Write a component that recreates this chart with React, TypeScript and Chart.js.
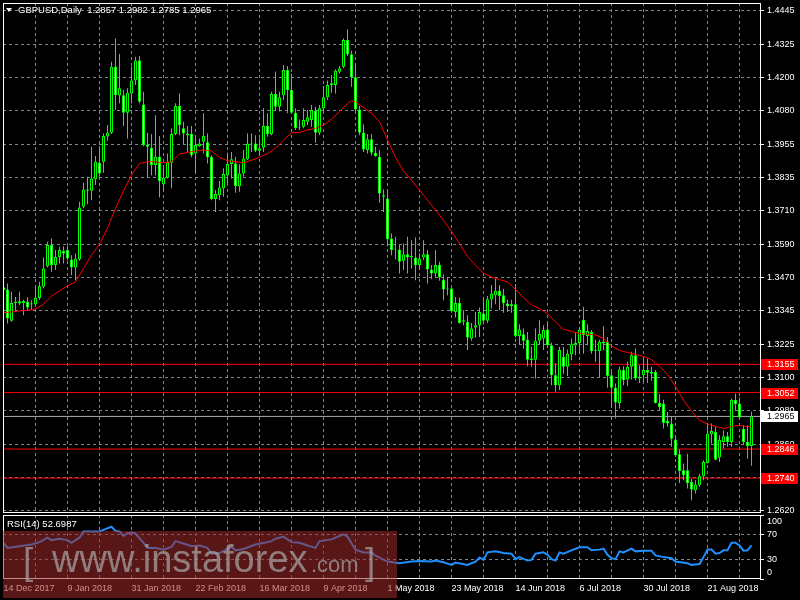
import React, { useEffect, useRef } from "react";
import { Chart, registerables } from "chart.js";
Chart.register(...registerables);

const symbol = "GBPUSD,Daily";

const opens = [
  1.3436, 1.3428, 1.3314, 1.3379, 1.3385, 1.3378, 1.3383, 1.3373, 1.3373, 1.3397,
  1.3438, 1.3513, 1.3590, 1.3517, 1.3547, 1.3568, 1.3572, 1.3537, 1.3508, 1.3537,
  1.3730, 1.3793, 1.3788, 1.3830, 1.3890, 1.3894, 1.3986, 1.4000, 1.4241, 1.4136,
  1.4137, 1.4073, 1.4143, 1.4190, 1.4263, 1.4103, 1.3957, 1.3945, 1.3882, 1.3912,
  1.3811, 1.3836, 1.3890, 1.3995, 1.4097, 1.4016, 1.3997, 1.3995, 1.3924, 1.3951,
  1.3967, 1.3965, 1.3912, 1.3758, 1.3772, 1.3797, 1.3845, 1.3886, 1.3888, 1.3805,
  1.3851, 1.3903, 1.3961, 1.3961, 1.3934, 1.3945, 1.4024, 1.3995, 1.4141, 1.4095,
  1.4137, 1.4229, 1.4156, 1.4073, 1.4019, 1.4022, 1.4040, 1.4046, 1.4080, 1.4000,
  1.4089, 1.4129, 1.4174, 1.4174, 1.4222, 1.4241, 1.4338, 1.4286, 1.4202, 1.4085,
  1.4000, 1.3937, 1.3976, 1.3927, 1.3912, 1.3766, 1.3760, 1.3614, 1.3572, 1.3574,
  1.3533, 1.3557, 1.3547, 1.3545, 1.3517, 1.3545, 1.3557, 1.3501, 1.3486, 1.3517,
  1.3464, 1.3428, 1.3432, 1.3346, 1.3379, 1.3310, 1.3310, 1.3249, 1.3289, 1.3298,
  1.3340, 1.3314, 1.3392, 1.3407, 1.3423, 1.3407, 1.3377, 1.3367, 1.3374, 1.3258,
  1.3265, 1.3245, 1.3170, 1.3172, 1.3241, 1.3249, 1.3282, 1.3225, 1.3115, 1.3079,
  1.3182, 1.3146, 1.3192, 1.3225, 1.3233, 1.3318, 1.3258, 1.3273, 1.3204, 1.3204,
  1.3237, 1.3237, 1.3115, 1.3070, 1.3014, 1.3134, 1.3100, 1.3146, 1.3188, 1.3103,
  1.3115, 1.3134, 1.3121, 1.3127, 1.3014, 1.3012, 1.2949, 1.2939, 1.2881, 1.2827,
  1.2769, 1.2769, 1.2726, 1.2696, 1.2714, 1.2747, 1.2795, 1.2900, 1.2908, 1.2815,
  1.2872, 1.2893, 1.2872, 1.3026, 1.3012, 1.2920, 1.2872, 1.2857,
];
const highs = [
  1.3465, 1.3450, 1.3420, 1.3401, 1.3420, 1.3391, 1.3399, 1.3389, 1.3434, 1.3456,
  1.3545, 1.3602, 1.3614, 1.3572, 1.3584, 1.3586, 1.3586, 1.3553, 1.3559, 1.3748,
  1.3817, 1.3839, 1.3949, 1.3915, 1.3951, 1.3997, 1.4028, 1.4259, 1.4344, 1.4287,
  1.4156, 1.4162, 1.4241, 1.4277, 1.4280, 1.4149, 1.4000, 1.3995, 1.4064, 1.3988,
  1.3876, 1.3924, 1.4016, 1.4107, 1.4143, 1.4040, 1.4024, 1.4024, 1.3991, 1.3979,
  1.4071, 1.3997, 1.3918, 1.3791, 1.3825, 1.3870, 1.3927, 1.3930, 1.3912, 1.3885,
  1.3937, 1.3997, 1.3997, 1.3991, 1.3979, 1.4089, 1.4071, 1.4149, 1.4223, 1.4149,
  1.4247, 1.4243, 1.4216, 1.4089, 1.4048, 1.4089, 1.4083, 1.4101, 1.4095, 1.4101,
  1.4170, 1.4190, 1.4210, 1.4231, 1.4243, 1.4344, 1.4377, 1.4299, 1.4247, 1.4097,
  1.4031, 1.3995, 1.3995, 1.3949, 1.3937, 1.3793, 1.3790, 1.3632, 1.3620, 1.3590,
  1.3596, 1.3620, 1.3608, 1.3618, 1.3559, 1.3608, 1.3572, 1.3517, 1.3572, 1.3529,
  1.3484, 1.3472, 1.3435, 1.3401, 1.3399, 1.3352, 1.3334, 1.3306, 1.3346, 1.3362,
  1.3401, 1.3404, 1.3444, 1.3468, 1.3444, 1.3431, 1.3391, 1.3391, 1.3448, 1.3301,
  1.3286, 1.3273, 1.3219, 1.3286, 1.3316, 1.3298, 1.3306, 1.3234, 1.3158, 1.3219,
  1.3219, 1.3209, 1.3249, 1.3270, 1.3289, 1.3365, 1.3301, 1.3280, 1.3245, 1.3245,
  1.3294, 1.3255, 1.3127, 1.3085, 1.3146, 1.3148, 1.3164, 1.3201, 1.3213, 1.3152,
  1.3172, 1.3176, 1.3146, 1.3134, 1.3046, 1.3026, 1.2981, 1.2963, 1.2896, 1.2844,
  1.2793, 1.2829, 1.2738, 1.2732, 1.2756, 1.2805, 1.2939, 1.2939, 1.2927, 1.2896,
  1.2914, 1.2908, 1.3030, 1.3048, 1.3034, 1.2933, 1.2933, 1.2982,
];
const lows = [
  1.3401, 1.3304, 1.3310, 1.3346, 1.3371, 1.3334, 1.3353, 1.3353, 1.3365, 1.3391,
  1.3432, 1.3508, 1.3493, 1.3499, 1.3523, 1.3523, 1.3535, 1.3480, 1.3462, 1.3533,
  1.3724, 1.3739, 1.3754, 1.3809, 1.3839, 1.3854, 1.3971, 1.3995, 1.4083, 1.4107,
  1.4024, 1.3979, 1.4107, 1.4174, 1.4107, 1.3951, 1.3837, 1.3845, 1.3845, 1.3764,
  1.3788, 1.3833, 1.3797, 1.3991, 1.3991, 1.3958, 1.3930, 1.3910, 1.3854, 1.3949,
  1.3924, 1.3888, 1.3754, 1.3711, 1.3754, 1.3766, 1.3809, 1.3833, 1.3781, 1.3785,
  1.3839, 1.3900, 1.3930, 1.3930, 1.3915, 1.3930, 1.3985, 1.3991, 1.4083, 1.4077,
  1.4119, 1.4071, 1.4071, 1.4010, 1.4010, 1.4016, 1.4028, 1.4022, 1.3963, 1.3991,
  1.4077, 1.4119, 1.4146, 1.4143, 1.4216, 1.4235, 1.4280, 1.4168, 1.4077, 1.3991,
  1.3930, 1.3924, 1.3918, 1.3912, 1.3744, 1.3711, 1.3585, 1.3553, 1.3537, 1.3486,
  1.3499, 1.3486, 1.3505, 1.3462, 1.3499, 1.3535, 1.3450, 1.3465, 1.3474, 1.3460,
  1.3389, 1.3407, 1.3343, 1.3326, 1.3304, 1.3298, 1.3207, 1.3241, 1.3253, 1.3255,
  1.3301, 1.3306, 1.3359, 1.3374, 1.3352, 1.3343, 1.3346, 1.3343, 1.3253, 1.3229,
  1.3213, 1.3148, 1.3146, 1.3103, 1.3229, 1.3207, 1.3219, 1.3079, 1.3055, 1.3061,
  1.3121, 1.3112, 1.3170, 1.3188, 1.3192, 1.3194, 1.3225, 1.3194, 1.3164, 1.3107,
  1.3206, 1.3070, 1.2999, 1.2957, 1.2994, 1.3079, 1.3075, 1.3100, 1.3097, 1.3087,
  1.3091, 1.3087, 1.3095, 1.3012, 1.2988, 1.2921, 1.2927, 1.2854, 1.2817, 1.2722,
  1.2732, 1.2702, 1.2659, 1.2684, 1.2708, 1.2732, 1.2793, 1.2866, 1.2805, 1.2799,
  1.2848, 1.2854, 1.2854, 1.2988, 1.2957, 1.2863, 1.2811, 1.2785,
];
const closes = [
  1.3425, 1.3322, 1.3379, 1.3383, 1.3377, 1.3386, 1.3362, 1.3377, 1.3398, 1.3440,
  1.3505, 1.3590, 1.3517, 1.3547, 1.3572, 1.3559, 1.3541, 1.3508, 1.3541, 1.3727,
  1.3793, 1.3788, 1.3833, 1.3894, 1.3851, 1.3988, 1.4000, 1.4241, 1.4137, 1.4162,
  1.4073, 1.4146, 1.4190, 1.4263, 1.4113, 1.3955, 1.3949, 1.3882, 1.3912, 1.3823,
  1.3836, 1.3894, 1.3995, 1.4097, 1.4028, 1.3997, 1.3991, 1.3918, 1.3955, 1.3961,
  1.3988, 1.3910, 1.3758, 1.3776, 1.3800, 1.3849, 1.3886, 1.3903, 1.3806, 1.3851,
  1.3906, 1.3961, 1.3958, 1.3934, 1.3943, 1.4024, 1.3995, 1.4141, 1.4095, 1.4129,
  1.4229, 1.4156, 1.4073, 1.4016, 1.4016, 1.4046, 1.4056, 1.4083, 1.4000, 1.4089,
  1.4129, 1.4174, 1.4180, 1.4226, 1.4235, 1.4338, 1.4286, 1.4202, 1.4085, 1.4000,
  1.3939, 1.3976, 1.3927, 1.3915, 1.3778, 1.3772, 1.3611, 1.3572, 1.3574, 1.3529,
  1.3557, 1.3545, 1.3550, 1.3517, 1.3541, 1.3557, 1.3501, 1.3486, 1.3517, 1.3472,
  1.3428, 1.3432, 1.3350, 1.3379, 1.3306, 1.3316, 1.3253, 1.3286, 1.3298, 1.3346,
  1.3314, 1.3392, 1.3413, 1.3423, 1.3404, 1.3379, 1.3367, 1.3374, 1.3258, 1.3282,
  1.3241, 1.3172, 1.3176, 1.3241, 1.3267, 1.3280, 1.3225, 1.3115, 1.3079, 1.3207,
  1.3146, 1.3194, 1.3228, 1.3233, 1.3282, 1.3261, 1.3277, 1.3204, 1.3206, 1.3237,
  1.3231, 1.3112, 1.3070, 1.3016, 1.3136, 1.3097, 1.3146, 1.3188, 1.3103, 1.3109,
  1.3134, 1.3124, 1.3127, 1.3014, 1.2999, 1.2941, 1.2939, 1.2884, 1.2823, 1.2766,
  1.2750, 1.2722, 1.2698, 1.2717, 1.2747, 1.2799, 1.2902, 1.2912, 1.2807, 1.2880,
  1.2893, 1.2872, 1.3026, 1.3010, 1.2961, 1.2872, 1.2857, 1.2965,
];

// moving average (bar index -> value)
const maBars = [
  0, 2, 4, 6, 8, 10, 12, 14, 16, 18, 20, 22, 24, 26, 28, 30, 32, 34, 36, 38,
  40, 42, 44, 46, 48, 50, 52, 54, 56, 58, 60, 62, 64, 66, 68, 70, 72, 74, 76, 78,
  80, 82, 84, 86, 87, 88, 89, 90, 92, 94, 96, 98, 100, 102, 104, 106, 108, 110, 112, 114,
  116, 118, 120, 122, 124, 126, 128, 130, 132, 134, 136, 138, 140, 142, 144, 146, 148, 150, 152, 154,
  156, 158, 160, 162, 164, 166, 168, 170, 172, 174, 176, 178, 180, 182, 184, 186, 187,
];
const maValues = [
  1.3344, 1.3346, 1.3350, 1.3352, 1.3357, 1.3374, 1.3404, 1.3423, 1.3441, 1.3456,
  1.3505, 1.3553, 1.3594, 1.3651, 1.3724, 1.3788, 1.3845, 1.3888, 1.3894, 1.3894,
  1.3890, 1.3894, 1.3922, 1.3928, 1.3933, 1.3937, 1.3933, 1.3910, 1.3898, 1.3894,
  1.3890, 1.3900, 1.3910, 1.3924, 1.3943, 1.3973, 1.4000, 1.4001, 1.4010, 1.4016,
  1.4028, 1.4049, 1.4077, 1.4107, 1.4116, 1.4113, 1.4101, 1.4092, 1.4071, 1.4040,
  1.3973, 1.3910, 1.3860, 1.3826, 1.3791, 1.3754, 1.3718, 1.3680, 1.3640, 1.3596,
  1.3548, 1.3517, 1.3487, 1.3473, 1.3464, 1.3456, 1.3428, 1.3398, 1.3372, 1.3358,
  1.3340, 1.3310, 1.3283, 1.3275, 1.3268, 1.3265, 1.3262, 1.3250, 1.3222, 1.3206,
  1.3198, 1.3191, 1.3184, 1.3172, 1.3148, 1.3118, 1.3075, 1.3024, 1.2984, 1.2951,
  1.2937, 1.2929, 1.2921, 1.2928, 1.2933, 1.2927, 1.2929,
];

// RSI(14) (bar index -> value)
const rsiBars = [
  0, 1, 4, 7, 9, 11, 12, 14, 16, 17, 19, 20, 22, 24, 25, 27, 28, 29, 30, 31,
  32, 33, 35, 36, 38, 40, 42, 43, 45, 47, 49, 51, 52, 54, 57, 58, 60, 63, 66, 67,
  68, 70, 72, 74, 76, 78, 79, 82, 83, 85, 86, 88, 90, 92, 93, 96, 99, 102, 104, 107,
  108, 110, 112, 113, 116, 118, 119, 120, 121, 123, 125, 127, 128, 129, 131, 132, 133, 135, 136, 137,
  138, 139, 140, 142, 144, 146, 147, 149, 150, 151, 152, 153, 154, 155, 157, 158, 160, 162, 163, 165,
  167, 168, 171, 172, 174, 175, 176, 177, 178, 179, 180, 181, 182, 183, 184, 185, 186, 187,
];
const rsiValues = [
  56.6, 48.6, 51.2, 53.9, 57.6, 64.6, 60.8, 63.0, 60.8, 56.6, 64.6, 74.2, 74.2, 74.2, 76.8, 81.6, 75.2, 74.2, 67.2, 71.5,
  72.6, 71.0, 56.6, 48.6, 48.6, 45.9, 50.2, 59.2, 55.5, 51.2, 52.3, 48.6, 39.5, 40.6, 50.2, 44.8, 47.0, 53.9, 57.6, 59.2,
  63.0, 66.2, 57.6, 56.6, 52.3, 48.6, 59.2, 61.9, 64.6, 69.9, 66.2, 45.9, 41.6, 41.6, 36.3, 27.2, 24.6, 27.2, 28.3, 27.2,
  28.8, 26.2, 21.9, 25.6, 21.9, 27.2, 33.6, 29.9, 41.6, 43.2, 40.6, 39.5, 31.0, 34.2, 28.8, 29.9, 39.5, 41.6, 38.0, 31.0,
  29.0, 41.6, 39.5, 44.8, 49.6, 49.6, 44.8, 45.9, 47.5, 37.9, 32.6, 31.0, 43.2, 41.6, 47.5, 43.2, 44.3, 44.3, 36.8, 34.2,
  32.6, 27.2, 24.6, 21.9, 23.5, 34.2, 45.9, 45.9, 39.5, 40.6, 44.8, 44.8, 56.6, 56.6, 52.3, 44.3, 44.8, 52.7,
];

const dateLabels = [
  "14 Dec 2017", "9 Jan 2018", "31 Jan 2018", "22 Feb 2018", "16 Mar 2018", "9 Apr 2018",
  "1 May 2018", "23 May 2018", "14 Jun 2018", "6 Jul 2018", "30 Jul 2018", "21 Aug 2018",
];
const priceTickLabels = [
  "1.2620", "1.2740", "1.2860", "1.2980", "1.3100", "1.3225", "1.3345", "1.3470",
  "1.3590", "1.3710", "1.3835", "1.3955", "1.4080", "1.4200", "1.4325", "1.4445",
];
const redLevels = [1.3155, 1.3052, 1.2846, 1.2740];
const bidLevel = 1.2965;
const rsiTicks = [0, 30, 70, 100];
const rsiName = "RSI(14)";
const rsiLast = "52.6987";

const FONT = '"Liberation Sans", Arial, sans-serif';
const GRID = "#778899";
const LIME = "#00ff00";
const N = closes.length;
const xMin = -0.125;
const xMax = 189.125;
const priceLo = 1.262;
const priceHi = 1.4445;
const yMin = 1.26127;
const yMax = 1.44731;
const priceTickValues = priceTickLabels.map(
  (_, k) => priceLo + (k * (priceHi - priceLo)) / (priceTickLabels.length - 1)
);
const gridBars: number[] = [];
for (let b = 0; b < N; b += 8) gridBars.push(b);

const zeroPad = (s: any) => {
  s.paddingTop = 0;
  s.paddingBottom = 0;
  s.paddingLeft = 0;
  s.paddingRight = 0;
};

const xScaleBase = (showLabels: boolean, h: number) => ({
  type: "linear" as const,
  offset: false,
  min: xMin,
  max: xMax,
  afterBuildTicks: (s: any) => {
    s.ticks = gridBars.map((v) => ({ value: v }));
  },
  afterFit: (s: any) => {
    s.height = h;
    zeroPad(s);
  },
  grid: { color: GRID, drawTicks: false, lineWidth: 1, offset: false },
  border: { display: false, dash: [3, 3] },
  ticks: showLabels
    ? {
        display: true,
        autoSkip: false,
        maxRotation: 0,
        align: "start" as const,
        padding: 4,
        color: "#ffffff",
        font: { family: FONT, size: 9 },
        callback: (v: any) => (v % 16 === 0 ? dateLabels[v / 16] ?? "" : ""),
      }
    : { display: false },
});

export default function App() {
  const mainRef = useRef<HTMLCanvasElement | null>(null);
  const rsiRef = useRef<HTMLCanvasElement | null>(null);

  useEffect(() => {
    if (!mainRef.current || !rsiRef.current) return;

    const mainPlugin = {
      id: "mainDecor",
      afterDraw(chart: any) {
        const { ctx, chartArea: a } = chart;
        const ys = chart.scales.y;
        ctx.save();
        ctx.strokeStyle = "#ffffff";
        ctx.lineWidth = 1;
        ctx.strokeRect(a.left + 0.5, a.top + 0.5, a.right - a.left, a.bottom - a.top - 1);
        ctx.font = `9px ${FONT}`;
        ctx.textBaseline = "middle";
        ctx.textAlign = "left";
        const box = (v: number, bg: string, fg: string) => {
          const y = Math.round(ys.getPixelForValue(v));
          ctx.fillStyle = bg;
          ctx.fillRect(a.right + 1, y - 5, 37, 11);
          ctx.fillStyle = fg;
          ctx.fillText(v.toFixed(4), a.right + 7, y + 0.5);
        };
        redLevels.forEach((v) => box(v, "#ff0000", "#ffffff"));
        box(bidLevel, "#ffffff", "#000000");
        // header
        ctx.fillStyle = "#ffffff";
        ctx.beginPath();
        ctx.moveTo(6, 8);
        ctx.lineTo(12, 8);
        ctx.lineTo(9, 12);
        ctx.closePath();
        ctx.fill();
        const last = N - 1;
        const hdr = `${symbol}  ${opens[last].toFixed(4)} ${highs[last].toFixed(4)} ${lows[last].toFixed(4)} ${closes[last].toFixed(4)}`;
        ctx.font = `9.5px ${FONT}`;
        ctx.fillText(hdr, 18, 10.5);
        ctx.restore();
      },
    };

    const main = new Chart(mainRef.current, {
      type: "bar",
      data: {
        datasets: [
          {
            type: "line",
            data: maBars.map((b, k) => ({ x: b, y: maValues[k] })),
            borderColor: "#ff0000",
            borderWidth: 1,
            pointRadius: 0,
            tension: 0,
            order: 0,
          } as any,
          {
            type: "bar",
            data: opens.map((o, i) => ({ x: i, y: [o, closes[i]] })),
            backgroundColor: opens.map((o, i) => (closes[i] >= o ? "#000000" : "#ffffff")),
            borderColor: LIME,
            borderWidth: 1,
            borderSkipped: false,
            barThickness: 3,
            grouped: false,
            inflateAmount: 0,
            order: 1,
          } as any,
          {
            type: "bar",
            data: lows.map((l, i) => ({ x: i, y: [l, highs[i]] })),
            backgroundColor: LIME,
            borderWidth: 0,
            barThickness: 1,
            grouped: false,
            inflateAmount: 0,
            order: 2,
          } as any,
          ...redLevels.map(
            (v) =>
              ({
                type: "line",
                data: [
                  { x: xMin, y: v },
                  { x: xMax, y: v },
                ],
                borderColor: "#ff0000",
                borderWidth: 1,
                pointRadius: 0,
                order: 3,
              } as any)
          ),
          {
            type: "line",
            data: [
              { x: xMin, y: bidLevel },
              { x: xMax, y: bidLevel },
            ],
            borderColor: "#a9a9a9",
            borderWidth: 1,
            pointRadius: 0,
            order: 3,
          } as any,
        ],
      },
      options: {
        animation: false,
        responsive: false,
        maintainAspectRatio: false,
        layout: { padding: { left: 3, top: 3, right: 0, bottom: 1 } },
        plugins: { legend: { display: false }, tooltip: { enabled: false } },
        scales: {
          x: xScaleBase(false, 0) as any,
          y: {
            position: "right",
            min: yMin,
            max: yMax,
            afterBuildTicks: (s: any) => {
              s.ticks = priceTickValues.map((v) => ({ value: v }));
            },
            afterFit: (s: any) => {
              s.width = 40;
              zeroPad(s);
            },
            grid: { color: GRID, tickColor: "#ffffff", tickLength: 4, tickBorderDash: [] },
            border: { display: false, dash: [3, 3] },
            ticks: {
              color: "#ffffff",
              padding: 3,
              autoSkip: false,
              font: { family: FONT, size: 9 },
              callback: (_v: any, idx: number) => priceTickLabels[idx],
            },
          } as any,
        },
      },
      plugins: [mainPlugin],
    });

    const rsiPlugin = {
      id: "rsiDecor",
      afterDraw(chart: any) {
        const { ctx, chartArea: a } = chart;
        const ys = chart.scales.y;
        ctx.save();
        ctx.strokeStyle = "#ffffff";
        ctx.lineWidth = 1;
        ctx.strokeRect(a.left + 0.5, a.top + 0.5, a.right - a.left, a.bottom - a.top - 1);
        ctx.fillStyle = "#ffffff";
        ctx.font = `9px ${FONT}`;
        ctx.textBaseline = "middle";
        ctx.textAlign = "left";
        ctx.fillText(String(rsiTicks[3]), a.right + 7, ys.getPixelForValue(100) + 7);
        ctx.fillText(String(rsiTicks[0]), a.right + 7, ys.getPixelForValue(0) - 6);
        ctx.font = `9.5px ${FONT}`;
        ctx.fillText(`${rsiName} ${rsiLast}`, 7, a.top + 9);
        // watermark
        ctx.fillStyle = "rgba(160,40,40,0.55)";
        ctx.fillRect(3, 17, 394, 67);
        ctx.fillStyle = "rgba(170,170,170,0.7)";
        ctx.textBaseline = "alphabetic";
        ctx.font = `37px ${FONT}`;
        ctx.fillText("[", 23, 60);
        ctx.fillText("]", 365, 60);
        ctx.font = `38px ${FONT}`;
        ctx.fillText("www.instaforex", 52, 58);
        ctx.font = `22px ${FONT}`;
        ctx.fillText(".com", 311, 58);
        ctx.restore();
      },
    };

    const rsi = new Chart(rsiRef.current, {
      type: "line",
      data: {
        datasets: [
          {
            data: rsiBars.map((b, k) => ({ x: b, y: rsiValues[k] })),
            borderColor: "#1e90ff",
            borderWidth: 2,
            pointRadius: 0,
            tension: 0,
          },
        ],
      },
      options: {
        animation: false,
        responsive: false,
        maintainAspectRatio: false,
        layout: { padding: { left: 3, top: 1, right: 0, bottom: 0 } },
        plugins: { legend: { display: false }, tooltip: { enabled: false } },
        scales: {
          x: xScaleBase(true, 21) as any,
          y: {
            position: "right",
            min: 0,
            max: 100,
            afterBuildTicks: (s: any) => {
              s.ticks = rsiTicks.map((v) => ({ value: v }));
            },
            afterFit: (s: any) => {
              s.width = 40;
              zeroPad(s);
            },
            grid: {
              color: (c: any) => (c.tick && (c.tick.value === 30 || c.tick.value === 70) ? GRID : "rgba(0,0,0,0)"),
              tickColor: "#ffffff",
              tickLength: 4,
              tickBorderDash: [],
            },
            border: { display: false, dash: [3, 3] },
            ticks: {
              color: "#ffffff",
              padding: 3,
              autoSkip: false,
              font: { family: FONT, size: 9 },
              callback: (v: any) => (v === 30 || v === 70 ? String(v) : ""),
            },
          } as any,
        },
      },
      plugins: [rsiPlugin],
    });

    return () => {
      main.destroy();
      rsi.destroy();
    };
  }, []);

  return (
    <div
      style={{
        position: "fixed",
        left: 0,
        top: 0,
        width: 800,
        height: 600,
        background: "#000000",
        overflow: "hidden",
      }}
    >
      <canvas
        ref={mainRef}
        width={800}
        height={514}
        style={{ position: "absolute", left: 0, top: 0, width: 800, height: 514 }}
      />
      <canvas
        ref={rsiRef}
        width={800}
        height={86}
        style={{ position: "absolute", left: 0, top: 514, width: 800, height: 86 }}
      />
    </div>
  );
}
